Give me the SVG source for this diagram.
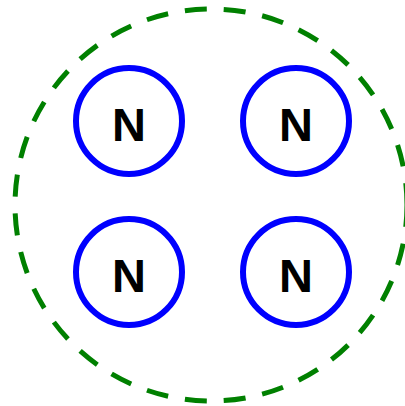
<svg xmlns="http://www.w3.org/2000/svg" width="405" height="406" viewBox="0 0 405 406">
<style>
.outer{fill:none;stroke:#008000;stroke-width:5;stroke-dasharray:22 17}
.node circle{fill:#fff;stroke:#0000ff;stroke-width:6}
.node text{font-family:"Liberation Sans",Arial,sans-serif;font-weight:bold;font-size:47px;fill:#000;text-anchor:middle}
</style>
<rect width="405" height="406" fill="#fff"/>
<g id="connectors"></g>
<g id="container"><circle class="outer" cx="211" cy="205" r="196"/></g>
<g id="n1" class="node"><circle cx="129" cy="121" r="53"/><text x="129" y="141">N</text></g>
<g id="n2" class="node"><circle cx="296" cy="121" r="53"/><text x="296" y="141">N</text></g>
<g id="n3" class="node"><circle cx="129" cy="272" r="53"/><text x="129" y="292">N</text></g>
<g id="n4" class="node"><circle cx="296" cy="272" r="53"/><text x="296" y="292">N</text></g>
</svg>
